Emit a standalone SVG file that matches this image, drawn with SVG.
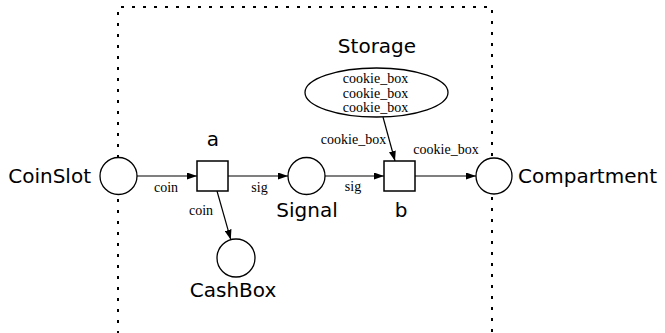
<svg xmlns="http://www.w3.org/2000/svg" width="665" height="333" viewBox="0 0 665 333">
  <style>
    .cluster { fill: none; stroke: #000; stroke-width: 2; stroke-dasharray: 3 8; }
    .place { fill: #fff; stroke: #000; stroke-width: 1.3; }
    .trans { fill: #fff; stroke: #000; stroke-width: 1.5; }
    .edge { fill: none; stroke: #000; stroke-width: 1.2; marker-end: url(#arrow); }
    .nlabel { font-family: "DejaVu Sans", Verdana, sans-serif; font-size: 20px; fill: #000; }
    .elabel { font-family: "Liberation Serif", "Times New Roman", serif; font-size: 14px; fill: #000; text-anchor: middle; }
  </style>
  <defs>
    <marker id="arrow" markerUnits="userSpaceOnUse" markerWidth="10" markerHeight="7" refX="10" refY="3.5" orient="auto">
      <path d="M0,0 L10,3.5 L0,7 Z" fill="#000"/>
    </marker>
  </defs>

  <!-- Storage cluster boundary (open at the bottom) -->
  <g id="cluster-storage">
    <path class="cluster" d="M118,345 V7 H492 V345"/>
    <text class="nlabel" x="377" y="52.5" text-anchor="middle">Storage</text>
  </g>

  <!-- connectors -->
  <g id="edges">
    <line class="edge" x1="137" y1="176" x2="197" y2="176"/>
    <line class="edge" x1="228" y1="176" x2="288" y2="176"/>
    <line class="edge" x1="217" y1="191" x2="230.8" y2="239.7"/>
    <line class="edge" x1="325" y1="176" x2="384" y2="176"/>
    <line class="edge" x1="415" y1="176" x2="476" y2="176"/>
    <line class="edge" x1="383" y1="117" x2="395" y2="161"/>
    <text class="elabel" x="166" y="192">coin</text>
    <text class="elabel" x="259.5" y="192">sig</text>
    <text class="elabel" x="201" y="215">coin</text>
    <text class="elabel" x="353" y="191">sig</text>
    <text class="elabel" x="353.5" y="144">cookie_box</text>
    <text class="elabel" x="446" y="154">cookie_box</text>
  </g>

  <g id="CoinSlot">
    <circle class="place" cx="118.5" cy="176" r="18.5"/>
    <text class="nlabel" x="91" y="183" text-anchor="end">CoinSlot</text>
  </g>

  <g id="a">
    <rect class="trans" x="197" y="161" width="31" height="30"/>
    <text class="nlabel" x="213" y="146" text-anchor="middle">a</text>
  </g>

  <g id="CashBox">
    <circle class="place" cx="236" cy="258" r="19"/>
    <text class="nlabel" x="233" y="297" text-anchor="middle">CashBox</text>
  </g>

  <g id="Signal">
    <circle class="place" cx="306.5" cy="176" r="18.5"/>
    <text class="nlabel" x="307" y="216.5" text-anchor="middle">Signal</text>
  </g>

  <g id="b">
    <rect class="trans" x="384" y="161" width="31" height="30"/>
    <text class="nlabel" x="401" y="216.5" text-anchor="middle">b</text>
  </g>

  <g id="Compartment">
    <circle class="place" cx="494" cy="176" r="18"/>
    <text class="nlabel" x="518" y="183">Compartment</text>
  </g>

  <g id="Storage">
    <ellipse class="place" cx="376.5" cy="92.5" rx="71.5" ry="24.5"/>
    <text class="elabel" x="375.5" y="83">cookie_box</text>
    <text class="elabel" x="375.5" y="97.5">cookie_box</text>
    <text class="elabel" x="375.5" y="112">cookie_box</text>
  </g>
</svg>
